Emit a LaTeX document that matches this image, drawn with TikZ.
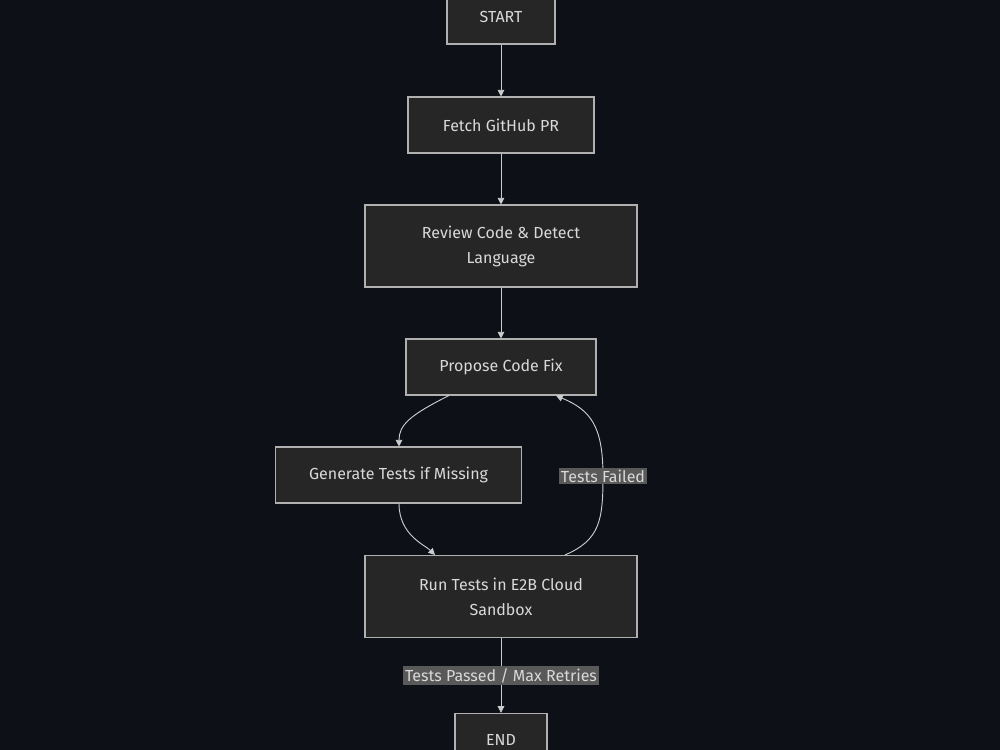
\documentclass[tikz,border=0pt]{standalone}
\usepackage{fontspec}
\setmainfont{Fira Sans}
\usetikzlibrary{arrows.meta}
\definecolor{bgcol}{HTML}{0D1117}
\definecolor{boxfill}{HTML}{262626}
\definecolor{boxline}{HTML}{B0B0B0}
\definecolor{lblfill}{HTML}{595959}
\tikzset{
  step box/.style={draw=boxline, fill=boxfill, text=white!85!black, line width=0.8pt,
    align=center, inner sep=0pt, font=\fontsize{12}{18.75}\selectfont},
  flow/.style={draw=white!80!black, line width=0.7pt, -{Triangle[length=5pt,width=5pt]}},
  edge label/.style={fill=lblfill, text=white!85!black, inner sep=1.5pt,
    font=\fontsize{12}{14}\selectfont}
}
\begin{document}
\begin{tikzpicture}[x=0.75pt, y=-0.75pt]
\fill[bgcol] (0,0) rectangle (1000,750);
\useasboundingbox (0,0) rectangle (1000,750);
% steps
\node[step box, minimum width=81pt, minimum height=40.5pt] (start) at (501,17) {START};
\node[step box, minimum width=139.5pt, minimum height=42pt] (fetch) at (501,125) {Fetch GitHub PR};
\node[step box, minimum width=204pt, minimum height=61.5pt] (review) at (501,246) {Review Code \& Detect\\Language};
\node[step box, minimum width=142.5pt, minimum height=42pt] (propose) at (501,367) {Propose Code Fix};
\node[step box, minimum width=185pt, minimum height=42pt] (gen) at (398.5,475) {Generate Tests if Missing};
\node[step box, minimum width=204pt, minimum height=61.5pt] (run) at (501,596.5) {Run Tests in E2B Cloud\\Sandbox};
\node[step box, minimum width=69pt, minimum height=40pt] (end) at (501,740) {END};
% connectors
\draw[flow] (start) -- (fetch);
\draw[flow] (fetch) -- (review);
\draw[flow] (review) -- (propose);
\draw[flow] (propose.south -| 449,0) .. controls (410,415) and (399,425) .. (gen.north -| 399,0);
\draw[flow] (gen.south -| 399,0) .. controls (399,535) and (425,545) .. (run.north -| 435,0);
\draw[flow] (run.north -| 565,0) .. controls (600,540) and (603,520) .. (603,476)
  node[edge label] {Tests Failed}
  .. controls (603,425) and (590,410) .. (propose.south -| 556,0);
\draw[flow] (run) -- node[edge label] {Tests Passed / Max Retries} (end);
\end{tikzpicture}
\end{document}
